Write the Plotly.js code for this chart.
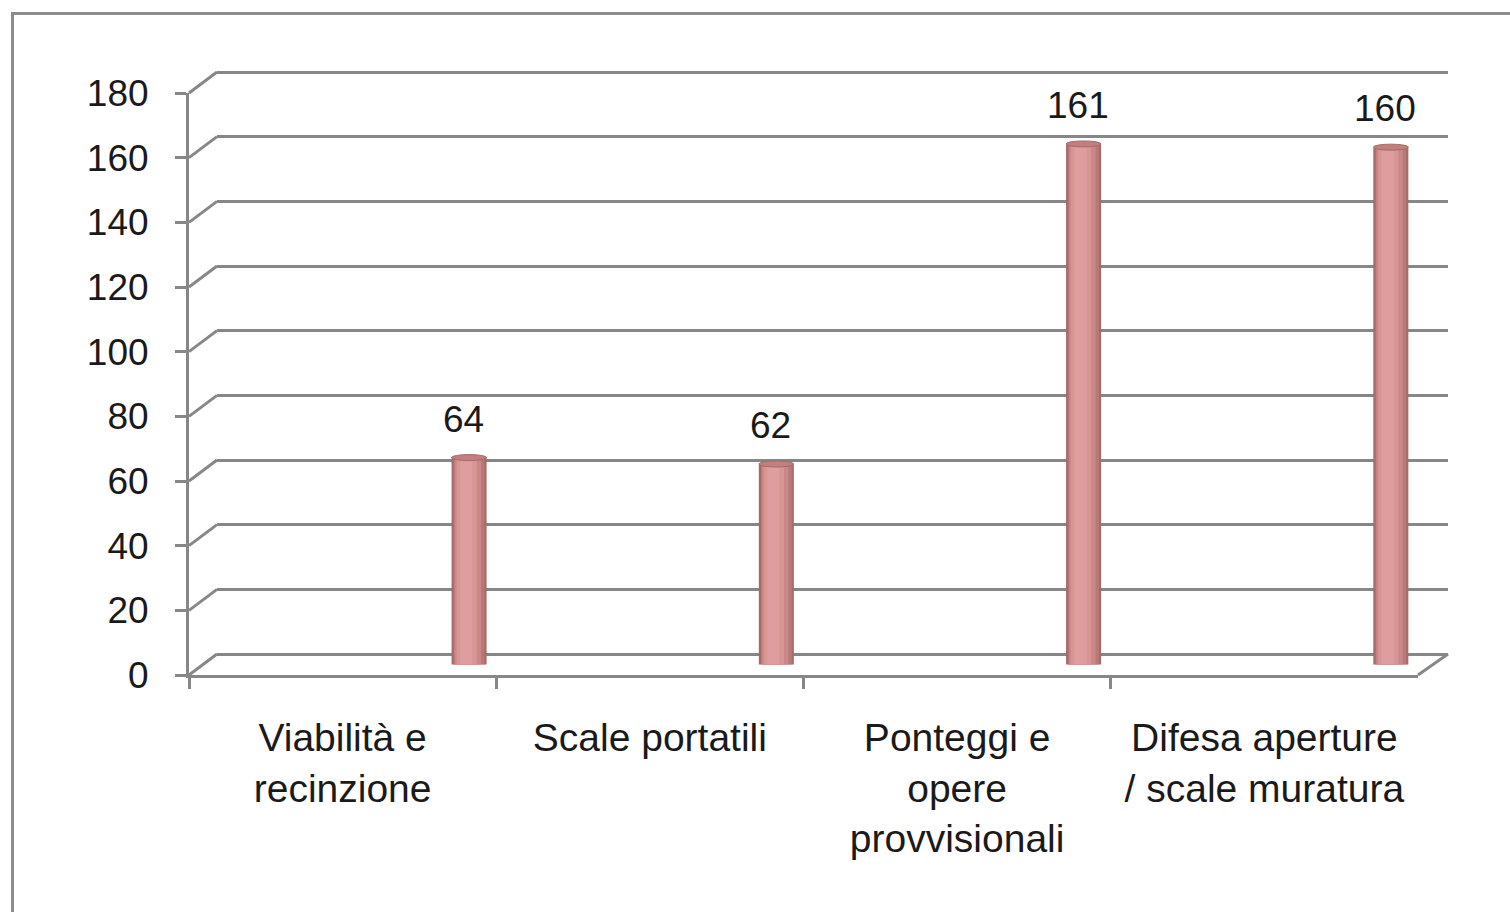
<!DOCTYPE html>
<html>
<head>
<meta charset="utf-8">
<script src="https://cdn.plot.ly/plotly-3.0.1.min.js"></script>
<style>html,body{margin:0;padding:0;background:#fff;}#chart{width:1510px;height:912px;}</style>
</head>
<body>
<div id="chart"></div>
<script>
// ---- data ----
const categories = ["Viabilità e<br>recinzione", "Scale portatili", "Ponteggi e<br>opere<br>provvisionali", "Difesa aperture<br>/ scale muratura"];
const values = [64, 62, 161, 160];
const yTicks = [0, 20, 40, 60, 80, 100, 120, 140, 160, 180];

// ---- geometry (pixels) ----
const W = 1510, H = 912;
const xL = 189, xR = 1418, yT = 93, yB = 675;   // front frame
const DX = 28, DY = 21;                          // depth offset
const px = v => v / W;
const py = v => 1 - v / H;
const GRAY = '#878787';
const FONT = 'Liberation Sans, Arial, sans-serif';
const YMAX = 180;
const pxPerUnit = (yB - yT) / YMAX;
const frontPaperY = v => py(yB) + (v / YMAX) * (py(yT) - py(yB));

const idx = categories.map((c, i) => i);

const traces = [
  {x: categories, y: values, xaxis: 'x', yaxis: 'y', type: 'scatter', mode: 'markers',
   marker: {opacity: 0}, hoverinfo: 'skip', showlegend: false},
  {x: categories, y: values, xaxis: 'x2', yaxis: 'y2', type: 'scatter', mode: 'markers',
   marker: {opacity: 0}, hoverinfo: 'skip', showlegend: false}
];

// cylinder shading layers
const layers = [
  {w: 0.114, off: 0, c: '#a56a69'},
  {w: 0.100, off: 0, c: '#b97978'},
  {w: 0.086, off: -0.004, c: '#c98786'},
  {w: 0.066, off: -0.008, c: '#d79594'},
  {w: 0.040, off: -0.010, c: '#dd9e9d'}
];
layers.forEach(l => {
  traces.push({
    x: idx, y: values, xaxis: 'x3', yaxis: 'y3', type: 'bar',
    width: l.w, offset: -l.w / 2 + l.off,
    marker: {color: l.c, line: {width: 0}},
    hoverinfo: 'skip', showlegend: false
  });
});

const shapes = [];
// outer border
shapes.push({type: 'rect', xref: 'paper', yref: 'paper', x0: px(12.5), x1: 1.05, y0: py(13.5), y1: -0.05,
  line: {color: '#8c8c8c', width: 3}, fillcolor: 'rgba(0,0,0,0)', layer: 'below'});
// depth connectors on the left
yTicks.forEach(v => {
  shapes.push({type: 'line', xref: 'paper', yref: 'paper', x0: px(xL), x1: px(xL + DX),
    y0: frontPaperY(v), y1: frontPaperY(v) + DY / H,
    line: {color: GRAY, width: 3}});
});
// depth connector bottom right
shapes.push({type: 'line', xref: 'paper', yref: 'paper', x0: px(xR), x1: px(xR + DX + 2),
  y0: frontPaperY(0), y1: frontPaperY(0) + DY / H,
  line: {color: GRAY, width: 3}});
// cylinder caps
const capW = 0.114, capH = 6 / pxPerUnit;
values.forEach((v, i) => {
  shapes.push({type: 'circle', xref: 'x3', yref: 'y3', x0: i - capW / 2, x1: i + capW / 2,
    y0: -capH / 2, y1: capH / 2, fillcolor: '#c98786', line: {width: 0}, layer: 'below'});
  shapes.push({type: 'circle', xref: 'x3', yref: 'y3', x0: i - capW / 2, x1: i + capW / 2,
    y0: v - capH / 2, y1: v + capH / 2, fillcolor: '#c17f7e', line: {color: '#a56a69', width: 1}, layer: 'above'});
});

const annotations = values.map((v, i) => ({
  xref: 'x3', yref: 'y3', x: i, y: v, text: String(v), showarrow: false,
  yanchor: 'bottom', xanchor: 'center', yshift: 16, xshift: -6,
  font: {family: FONT, size: 37, color: '#1a1a1a'}
}));

const r0 = -0.866;
const EXTRA = 2; // small headroom on back wall so the top gridline is drawn
const layout = {
  width: W, height: H,
  margin: {l: 0, r: 0, t: 0, b: 0},
  paper_bgcolor: '#ffffff', plot_bgcolor: 'rgba(0,0,0,0)',
  showlegend: false, barmode: 'overlay',
  font: {family: FONT, size: 37, color: '#1a1a1a'},
  xaxis: {domain: [px(xL), px(xR)], type: 'category', range: [-0.5, 3.5], anchor: 'y',
    tickson: 'boundaries', ticks: 'outside', ticklen: 11, tickwidth: 3, tickcolor: GRAY,
    showline: true, linecolor: GRAY, linewidth: 3, showgrid: false, zeroline: false,
    ticklabelstandoff: 26, tickfont: {family: FONT, size: 39, color: '#1a1a1a'}, fixedrange: true},
  yaxis: {domain: [py(yB), py(yT)], range: [0, YMAX], tickvals: yTicks, anchor: 'x',
    ticks: 'outside', ticklen: 11, tickwidth: 3, tickcolor: GRAY,
    showline: true, linecolor: GRAY, linewidth: 3, showgrid: false, zeroline: false,
    ticklabelstandoff: 19, tickfont: {family: FONT, size: 37, color: '#1a1a1a'}, fixedrange: true},
  xaxis2: {domain: [px(xL + DX), px(xR + DX + 2)], type: 'category', range: [-0.5, 3.5], anchor: 'y2',
    showticklabels: false, ticks: '', showline: false, showgrid: false, zeroline: false},
  yaxis2: {domain: [py(yB - DY), py(yT - DY - EXTRA * pxPerUnit)], range: [0, YMAX + EXTRA], tickvals: yTicks, anchor: 'x2',
    showticklabels: false, ticks: '', showline: false, showgrid: true, gridcolor: GRAY, gridwidth: 3,
    zeroline: true, zerolinecolor: GRAY, zerolinewidth: 3},
  xaxis3: {domain: [px(xL + DX / 2), px(xR + DX / 2)], range: [r0, r0 + 4], anchor: 'y3',
    showticklabels: false, ticks: '', showline: false, showgrid: false, zeroline: false},
  yaxis3: {domain: [py(yB - DY / 2), py(yT - DY / 2)], range: [0, YMAX], anchor: 'x3',
    showticklabels: false, ticks: '', showline: false, showgrid: false, zeroline: false},
  shapes: shapes,
  annotations: annotations
};

Plotly.newPlot('chart', traces, layout, {displayModeBar: false, staticPlot: true});
</script>
</body>
</html>
